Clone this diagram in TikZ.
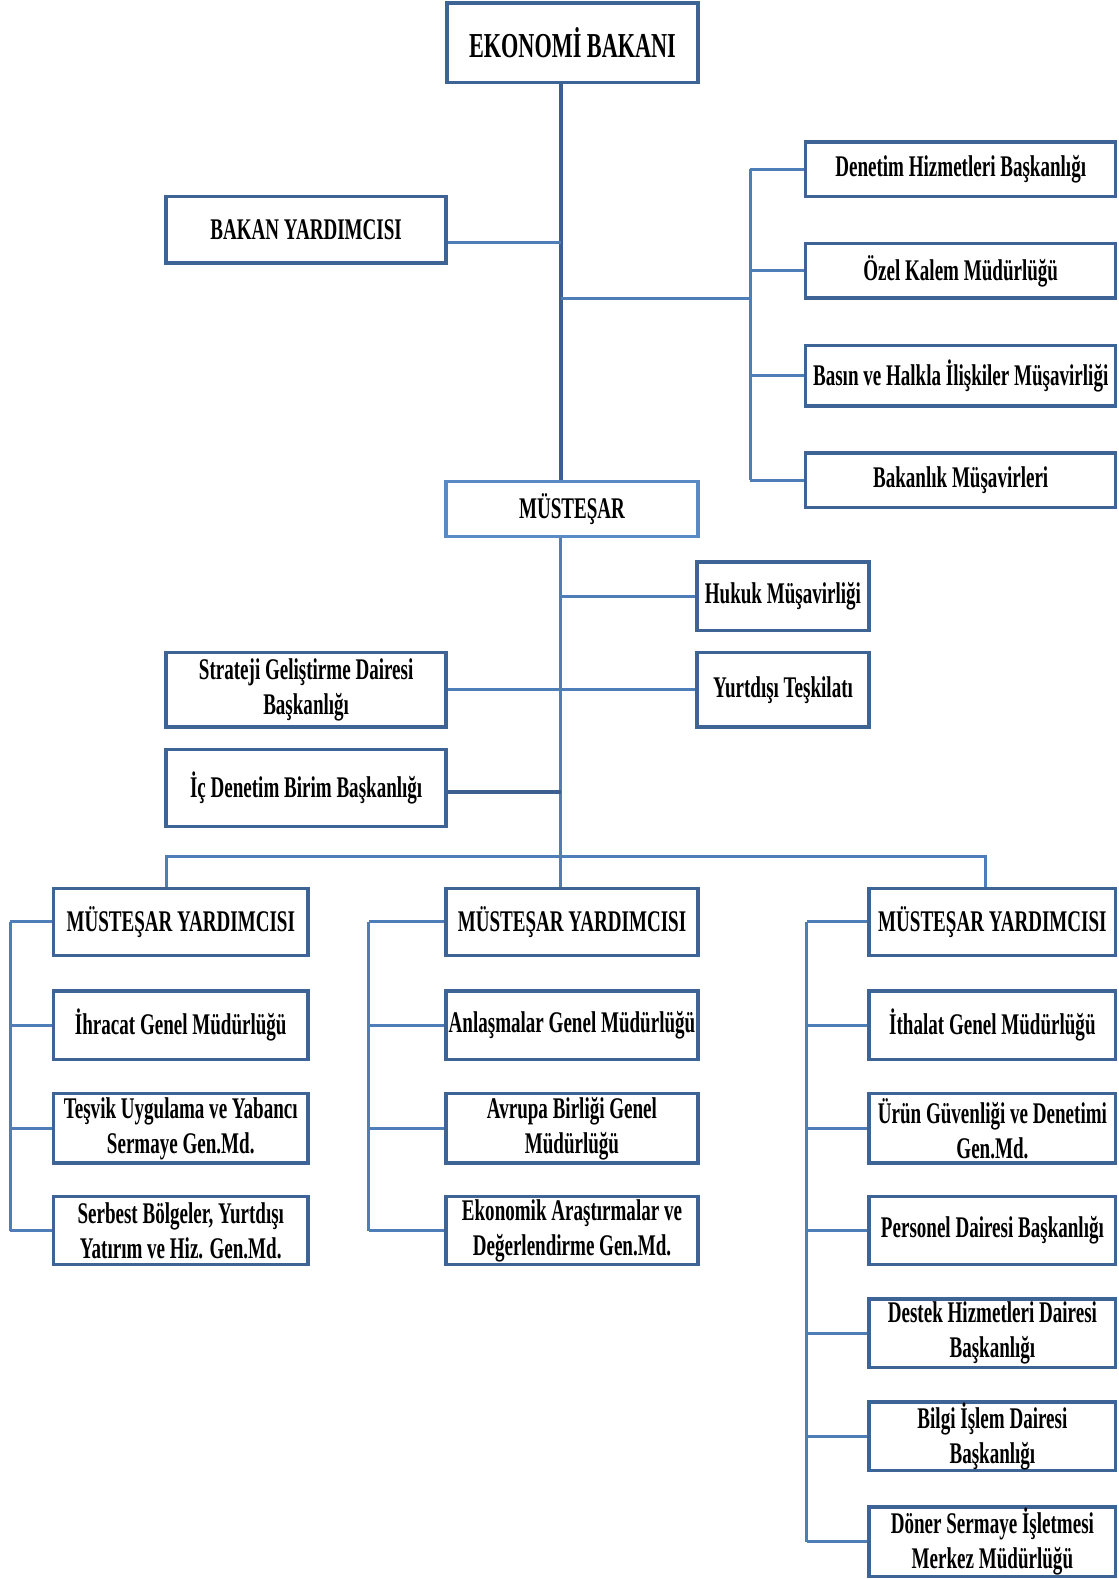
\documentclass[tikz,border=0pt]{standalone}
\usepackage{fontspec}
\usepackage{tikz}
\usepackage{xcolor}
\newfontfamily\orgfont[FakeStretch=0.635]{Liberation Serif}
\definecolor{boxdark}{HTML}{3E6496}
\definecolor{boxlight}{HTML}{5A8AC6}
\definecolor{linedark}{HTML}{3B5F8F}
\definecolor{lineblue}{HTML}{4F7DB8}

\begin{document}
\begin{tikzpicture}[x=0.5036pt,y=-0.5036pt,
  box/.style={draw=boxdark, line width=1.7pt, fill=white, align=center, inner sep=0pt,
    font=\orgfont\bfseries\fontsize{15}{17.5}\selectfont},
  conn/.style={draw=lineblue, line width=1.5pt}]
\useasboundingbox (0,0) rectangle (1111,1568);
% Bakan ve bakana bagli birimler
\node[box, minimum width=125.4pt, minimum height=39.8pt, font=\orgfont\bfseries\fontsize{17.5}{19}\selectfont] (bakan) at (568.5,42.5) {EKONOMİ BAKANI};
\node[box, minimum width=140pt, minimum height=33.2pt] (bakanyrd) at (304,228) {BAKAN YARDIMCISI};
\node[box, minimum width=155pt, minimum height=27.2pt] (denetim) at (954,168) {Denetim Hizmetleri Başkanlığı};
\node[box, minimum width=155pt, minimum height=27.2pt] (ozel) at (954,269) {Özel Kalem Müdürlüğü};
\node[box, minimum width=155pt, minimum height=30.2pt] (basin) at (954,373) {Basın ve Halkla İlişkiler Müşavirliği};
\node[box, minimum width=155pt, minimum height=27.2pt] (musavir) at (954,477) {Bakanlık Müşavirleri};
\node[box, draw=boxlight, minimum width=126pt, minimum height=27.7pt] (mustesar) at (568,505.5) {MÜSTEŞAR};
% Mustesara bagli birimler
\node[box, minimum width=86pt, minimum height=34.2pt] (hukuk) at (777.5,592) {Hukuk Müşavirliği};
\node[box, minimum width=86pt, minimum height=37.3pt] (yurtdisi) at (777.5,685) {Yurtdışı Teşkilatı};
\node[box, minimum width=140pt, minimum height=37.3pt] (strateji) at (304,685) {Strateji Geliştirme Dairesi\\Başkanlığı};
\node[box, minimum width=140pt, minimum height=38.8pt] (icdenetim) at (304,782.5) {İç Denetim Birim Başkanlığı};
% Mustesar yardimcilari
\node[box, minimum width=127.4pt, minimum height=33.7pt] (my1) at (179.5,915.5) {MÜSTEŞAR YARDIMCISI};
\node[box, minimum width=126pt, minimum height=33.7pt] (my2) at (568,915.5) {MÜSTEŞAR YARDIMCISI};
\node[box, minimum width=123.4pt, minimum height=33.7pt] (my3) at (985.5,915.5) {MÜSTEŞAR YARDIMCISI};
% Sol kol
\node[box, minimum width=127.4pt, minimum height=34.2pt] (ihracat) at (179.5,1018) {İhracat Genel Müdürlüğü};
\node[box, minimum width=127.4pt, minimum height=34.7pt] (tesvik) at (179.5,1120.5) {Teşvik Uygulama ve Yabancı\\Sermaye Gen.Md.};
\node[box, minimum width=127.4pt, minimum height=34.2pt] (serbest) at (179.5,1222) {Serbest Bölgeler, Yurtdışı\\Yatırım ve Hiz. Gen.Md.};
% Orta kol
\node[box, minimum width=126pt, minimum height=34.2pt] (anlasma) at (568,1018) {Anlaşmalar Genel Müdürlüğü};
\node[box, minimum width=126pt, minimum height=34.7pt] (avrupa) at (568,1120.5) {Avrupa Birliği Genel\\Müdürlüğü};
\node[box, minimum width=126pt, minimum height=34.2pt] (arastirma) at (568,1222) {Ekonomik Araştırmalar ve\\Değerlendirme Gen.Md.};
% Sag kol
\node[box, minimum width=123.4pt, minimum height=34.2pt] (ithalat) at (985.5,1018) {İthalat Genel Müdürlüğü};
\node[box, minimum width=123.4pt, minimum height=34.7pt] (urun) at (985.5,1120.5) {Ürün Güvenliği ve Denetimi\\Gen.Md.};
\node[box, minimum width=123.4pt, minimum height=34.2pt] (personel) at (985.5,1222) {Personel Dairesi Başkanlığı};
\node[box, minimum width=123.4pt, minimum height=34.2pt] (destek) at (985.5,1324) {Destek Hizmetleri Dairesi\\Başkanlığı};
\node[box, minimum width=123.4pt, minimum height=34.2pt] (bilgi) at (985.5,1426) {Bilgi İşlem Dairesi\\Başkanlığı};
\node[box, minimum width=123.4pt, minimum height=34.7pt] (doner) at (985.5,1531) {Döner Sermaye İşletmesi\\Merkez Müdürlüğü};
% Baglanti cizgileri
\coordinate (trunk) at (557,0);
\coordinate (rbus) at (745,0);
\coordinate (busL) at (165,851);
\coordinate (busR) at (979,851);
\coordinate (lbr) at (10,0);
\coordinate (mbr) at (366,0);
\coordinate (rbr) at (801,0);
\draw[draw=linedark, line width=2pt] (trunk |- bakan.south) -- (trunk |- mustesar.north);
\draw[conn] (trunk |- 0,241) -- (bakanyrd.east |- 0,241);
\draw[conn] (trunk |- 0,296) -- (rbus |- 0,296);
\draw[conn] (rbus |- denetim) -- (rbus |- musavir);
\foreach \n in {denetim,ozel,basin,musavir}
  \draw[conn] (rbus |- \n) -- (\n.west);
\draw[conn] (trunk |- mustesar.south) -- (trunk |- my2.north);
\draw[conn] (trunk |- hukuk) -- (hukuk.west);
\draw[conn] (strateji.east) -- (yurtdisi.west);
\draw[draw=linedark, line width=2pt] (icdenetim.east |- 0,786) -- (trunk |- 0,786);
\draw[conn] (busL |- my1.north) -- (busL) -- (busR) -- (busR |- my3.north);
% Alt kollar
\draw[conn] (lbr |- my1) -- (lbr |- serbest);
\foreach \n in {my1,ihracat,tesvik,serbest}
  \draw[conn] (lbr |- \n) -- (\n.west);
\draw[conn] (mbr |- my2) -- (mbr |- arastirma);
\foreach \n in {my2,anlasma,avrupa,arastirma}
  \draw[conn] (mbr |- \n) -- (\n.west);
\draw[conn] (rbr |- my3) -- (rbr |- doner);
\foreach \n in {my3,ithalat,urun,personel,destek,bilgi,doner}
  \draw[conn] (rbr |- \n) -- (\n.west);
\end{tikzpicture}
\end{document}
